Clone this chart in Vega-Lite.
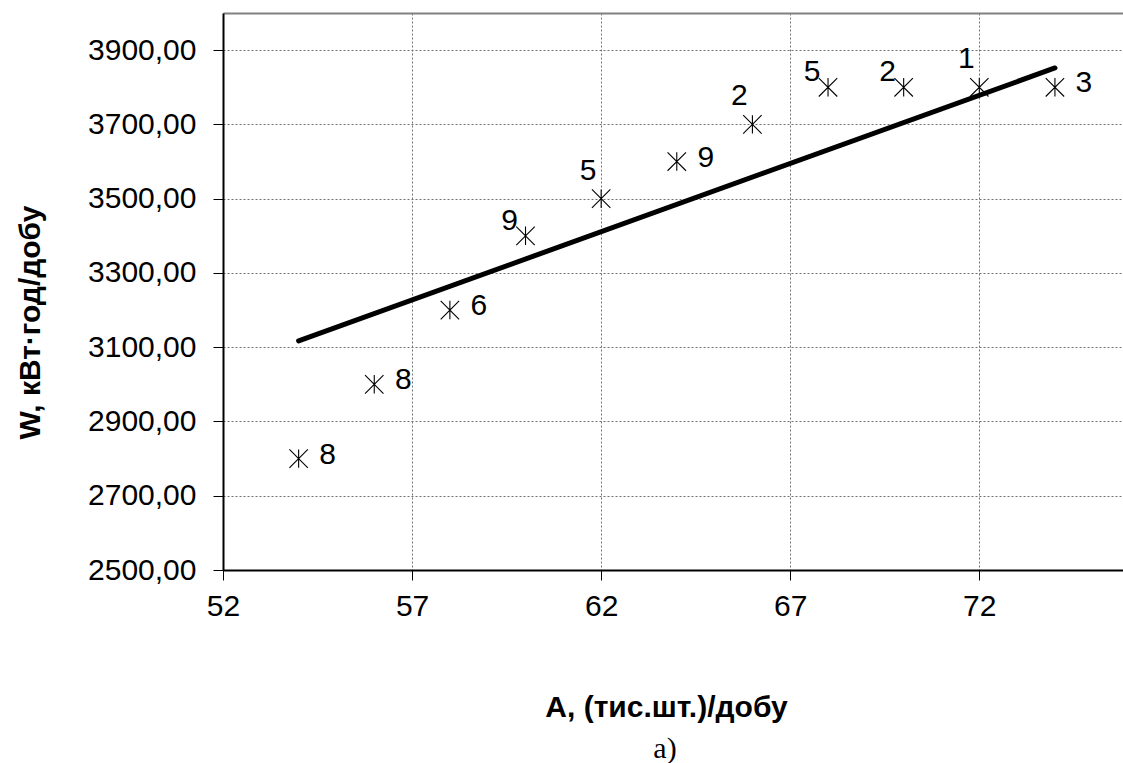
{
  "$schema": "https://vega.github.io/schema/vega-lite/v6.json",
  "width": 900,
  "height": 557,
  "autosize": {"type": "none"},
  "padding": {"left": 223, "top": 13, "right": 0, "bottom": 193},
  "background": "white",
  "config": {"view": {"stroke": null}, "font": "Liberation Sans"},
  "title": {"text": "а)", "orient": "bottom", "anchor": "middle", "font": "Liberation Serif", "fontSize": 30, "fontWeight": "normal", "color": "black", "offset": 12, "dx": -8, "baseline": "top"},
  "datasets": {
    "points": [
      {"A": 54, "W": 2800, "n": "8", "side": "right"},
      {"A": 56, "W": 3000, "n": "8", "side": "right"},
      {"A": 58, "W": 3200, "n": "6", "side": "right"},
      {"A": 60, "W": 3400, "n": "9", "side": "left"},
      {"A": 62, "W": 3500, "n": "5", "side": "upper"},
      {"A": 64, "W": 3600, "n": "9", "side": "right"},
      {"A": 66, "W": 3700, "n": "2", "side": "upper"},
      {"A": 68, "W": 3800, "n": "5", "side": "left"},
      {"A": 70, "W": 3800, "n": "2", "side": "left"},
      {"A": 72, "W": 3800, "n": "1", "side": "upper"},
      {"A": 74, "W": 3800, "n": "3", "side": "right"}
    ],
    "trend": [
      {"A": 54, "W": 3117},
      {"A": 74, "W": 3852}
    ]
  },
  "resolve": {"axis": {"x": "independent"}},
  "layer": [
    {
      "data": {"name": "trend"},
      "mark": {"type": "line", "color": "black", "strokeWidth": 5, "strokeCap": "round"},
      "encoding": {
        "x": {
          "field": "A", "type": "quantitative",
          "scale": {"domain": [52, 75.8], "nice": false, "zero": false},
          "axis": {
            "values": [52, 57, 62, 67, 72],
            "grid": true, "gridColor": "#707070", "gridDash": [2, 2], "gridWidth": 1,
            "domainColor": "black", "domainWidth": 2,
            "tickColor": "black", "tickSize": 10, "tickWidth": 1,
            "labelFont": "Liberation Sans", "labelFontSize": 30, "labelColor": "black",
            "labelPadding": 11, "labelFlush": false, "labelOverlap": false,
            "title": "A, (тис.шт.)/добу",
            "titleFont": "Liberation Sans", "titleFontSize": 30, "titleFontWeight": "bold", "titleColor": "black",
            "titleX": 443, "titleY": 137, "titleBaseline": "middle", "titleAlign": "center"
          }
        },
        "y": {
          "field": "W", "type": "quantitative",
          "scale": {"domain": [2500, 4000], "nice": false, "zero": false},
          "axis": {
            "values": [2500, 2700, 2900, 3100, 3300, 3500, 3700, 3900],
            "labelExpr": "replace(format(datum.value, '.2f'), '.', ',')",
            "grid": true, "gridColor": "#707070", "gridDash": [2, 2], "gridWidth": 1,
            "domainColor": "black", "domainWidth": 2,
            "tickColor": "black", "tickSize": 10, "tickWidth": 1,
            "labelFont": "Liberation Sans", "labelFontSize": 30, "labelColor": "black",
            "labelPadding": 17, "labelFlush": false, "labelOverlap": false,
            "title": "W, кВт·год/добу",
            "titleFont": "Liberation Sans", "titleFontSize": 30, "titleFontWeight": "bold", "titleColor": "black",
            "titleX": -193, "titleY": 309, "titleBaseline": "middle", "titleAlign": "center", "titleAngle": -90
          }
        }
      }
    },
    {
      "data": {"name": "points"},
      "mark": {"type": "point", "shape": "M-1,-1L1,1M-1,1L1,-1M0,-1L0,1", "size": 340, "stroke": "black", "strokeWidth": 1.1, "filled": false, "opacity": 1},
      "encoding": {
        "x": {
          "field": "A", "type": "quantitative",
          "axis": {"orient": "top", "labels": false, "ticks": false, "grid": false, "domainColor": "#808080", "domainWidth": 2, "title": null}
        },
        "y": {"field": "W", "type": "quantitative"}
      }
    },
    {
      "data": {"name": "points"},
      "transform": [{"filter": "datum.side === 'right'"}],
      "mark": {"type": "text", "font": "Liberation Sans", "fontSize": 30, "color": "black", "align": "center", "baseline": "middle", "dx": 29, "dy": -4},
      "encoding": {
        "x": {"field": "A", "type": "quantitative", "axis": null},
        "y": {"field": "W", "type": "quantitative"},
        "text": {"field": "n"}
      }
    },
    {
      "data": {"name": "points"},
      "transform": [{"filter": "datum.side === 'left'"}],
      "mark": {"type": "text", "font": "Liberation Sans", "fontSize": 30, "color": "black", "align": "center", "baseline": "middle", "dx": -16, "dy": -15},
      "encoding": {
        "x": {"field": "A", "type": "quantitative", "axis": null},
        "y": {"field": "W", "type": "quantitative"},
        "text": {"field": "n"}
      }
    },
    {
      "data": {"name": "points"},
      "transform": [{"filter": "datum.side === 'upper'"}],
      "mark": {"type": "text", "font": "Liberation Sans", "fontSize": 30, "color": "black", "align": "center", "baseline": "middle", "dx": -13, "dy": -28},
      "encoding": {
        "x": {"field": "A", "type": "quantitative", "axis": null},
        "y": {"field": "W", "type": "quantitative"},
        "text": {"field": "n"}
      }
    }
  ]
}
